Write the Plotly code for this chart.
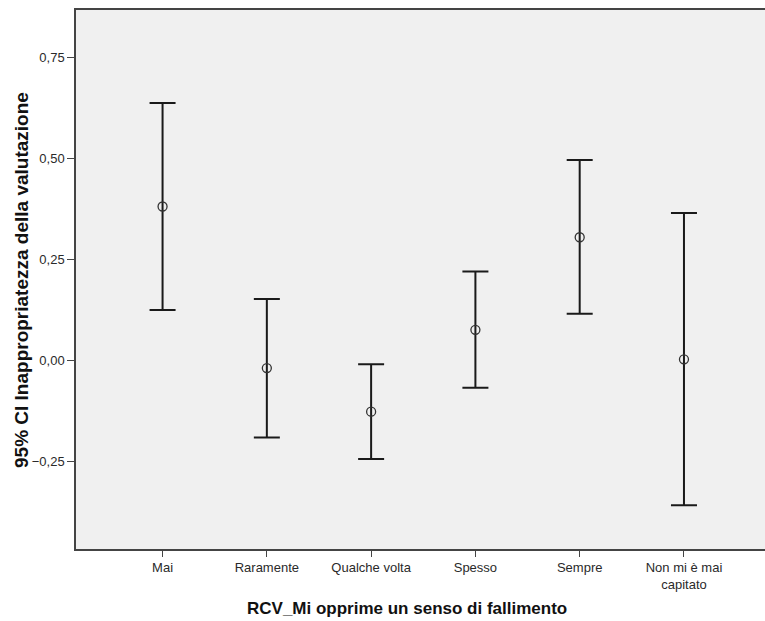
import plotly.graph_objects as go

categories = ["Mai", "Raramente", "Qualche volta", "Spesso", "Sempre", "Non mi è mai<br>capitato"]
means = [0.381, -0.0185, -0.1265, 0.076, 0.305, 0.003]
upper = [0.637, 0.152, -0.0094, 0.2205, 0.496, 0.365]
lower = [0.125, -0.190, -0.2435, -0.067, 0.116, -0.358]

x_title = "RCV_Mi opprime un senso di fallimento"
y_title = "95% CI Inappropriatezza della valutazione"
y_ticks = [-0.25, 0.0, 0.25, 0.5, 0.75]

idx = list(range(len(categories)))
err_plus = [u - m for u, m in zip(upper, means)]
err_minus = [m - l for m, l in zip(means, lower)]

fig = go.Figure()
fig.add_trace(go.Scatter(
    x=idx, y=means, mode="markers",
    marker=dict(symbol="circle-open", size=9, color="#333333", line=dict(width=1.3, color="#333333")),
    error_y=dict(type="data", symmetric=False, array=err_plus, arrayminus=err_minus,
                 color="#1a1a1a", thickness=2, width=13),
    showlegend=False, hoverinfo="skip",
))

W, H = 765, 621
L, R, T, B = 76, 0, 10, 72
fig.update_layout(
    width=W, height=H,
    margin=dict(l=L, r=R, t=T, b=B),
    paper_bgcolor="white", plot_bgcolor="#f0f0f0",
    separators=",.",
    font=dict(family="Liberation Sans, Arial, sans-serif", size=13, color="#222222"),
    xaxis=dict(
        range=[-0.83, 5.777], tickmode="array", tickvals=idx, ticktext=categories,
        showgrid=False, zeroline=False, showline=True, linecolor="#444444", linewidth=1.5,
        mirror=True, ticks="outside", ticklen=6, tickcolor="#444444", tickwidth=1.3,
        tickfont=dict(size=13, color="#2a2a2a"),
    ),
    yaxis=dict(
        range=[-0.466, 0.867], tickmode="array", tickvals=y_ticks,
        tickformat=".2f",
        showgrid=False, zeroline=False, showline=True, linecolor="#444444", linewidth=1.5,
        mirror=False, ticks="outside", ticklen=7, tickcolor="#444444", tickwidth=1.3,
        tickfont=dict(size=13, color="#2a2a2a"),
    ),
    annotations=[
        dict(text="<b>" + x_title + "</b>", xref="paper", yref="paper",
             x=(407 - L) / (W - L - R), y=-(608 - (H - B)) / (H - T - B),
             xanchor="center", yanchor="middle", showarrow=False,
             font=dict(size=17, color="#111111")),
        dict(text="<b>" + y_title + "</b>", xref="paper", yref="paper",
             x=-(L - 21) / (W - L - R), y=(H - B - 280) / (H - T - B),
             xanchor="center", yanchor="middle", showarrow=False, textangle=-90,
             font=dict(size=19, color="#111111")),
    ],
)

fig.write_html("out.html", config={"displayModeBar": False},
               post_script="document.body.style.margin='0';document.body.style.overflow='hidden';")
